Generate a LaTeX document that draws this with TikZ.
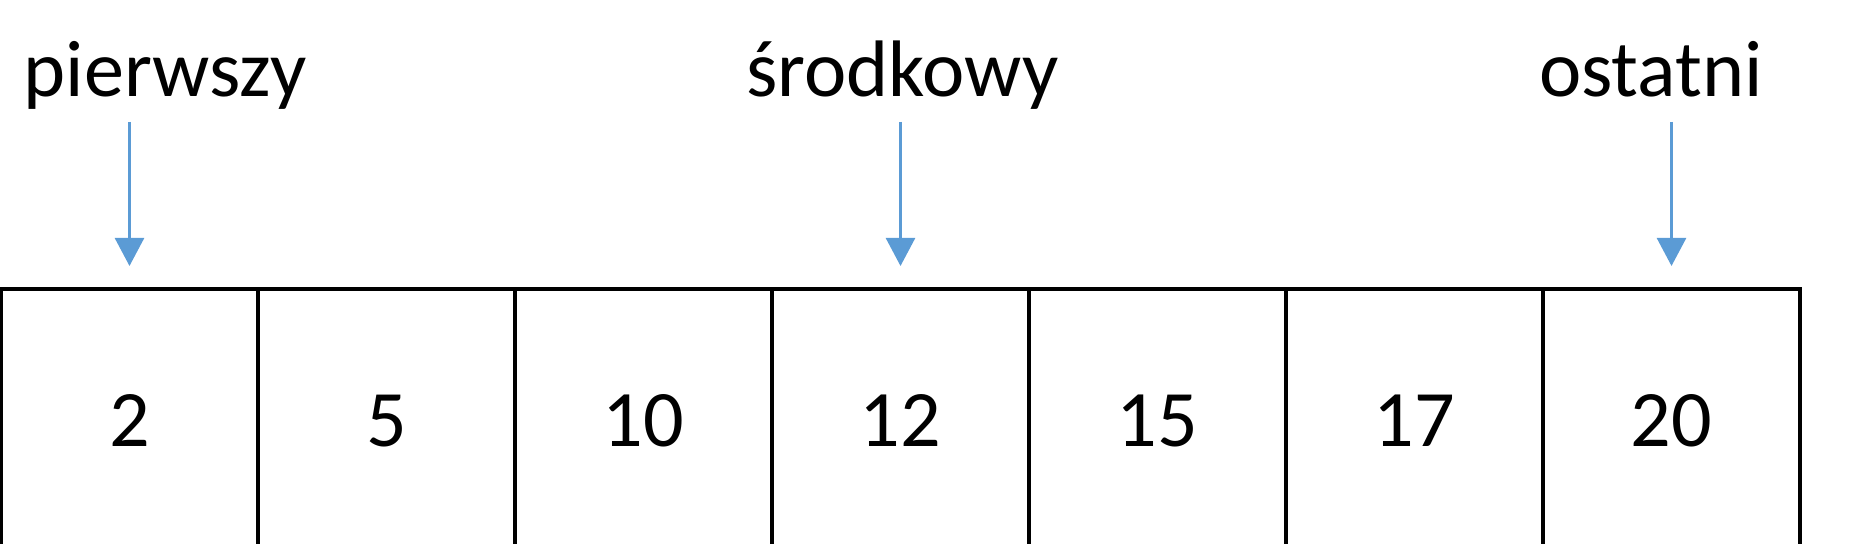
\documentclass[tikz,border=0pt]{standalone}
\usepackage{fontspec}
\setmainfont{Carlito}
\usetikzlibrary{positioning,arrows.meta}
\definecolor{arrowblue}{HTML}{5B9BD5}
\tikzset{
  cell/.style={draw, line width=1pt, minimum width=2.57cm, minimum height=2.64cm,
    inner sep=0pt, outer sep=0pt, font=\fontsize{22.8pt}{27pt}\selectfont},
  lbl/.style={anchor=base, inner sep=0pt, font=\fontsize{22.8pt}{27pt}\selectfont},
  ptr/.style={arrowblue, line width=0.75pt, -{Triangle[width=0.29cm,length=0.28cm]}, shorten >=0.23cm}
}
\begin{document}
\begin{tikzpicture}
            \useasboundingbox (0,0) rectangle (18.76,5.44);
            \node[cell] (c1) at (1.295,1.23) {2};
            \node[cell,right=0pt of c1] (c2) {5};
            \node[cell,right=0pt of c2] (c3) {10};
            \node[cell,right=0pt of c3] (c4) {12};
            \node[cell,right=0pt of c4] (c5) {15};
            \node[cell,right=0pt of c5] (c6) {17};
            \node[cell,right=0pt of c6] (c7) {20};
            \node[lbl] (first) at (1.655,4.47) {pierwszy};
            \node[lbl] (middle) at (9.025,4.47) {środkowy};
            \node[lbl] (last) at (16.51,4.47) {ostatni};
            \coordinate (p1) at ([yshift=1.67cm]c1.north);
            \coordinate (p4) at ([yshift=1.67cm]c4.north);
            \coordinate (p7) at ([yshift=1.67cm]c7.north);
            \draw[ptr] (p1) -- (c1.north);
            \draw[ptr] (p4) -- (c4.north);
            \draw[ptr] (p7) -- (c7.north);
\end{tikzpicture}
\end{document}
